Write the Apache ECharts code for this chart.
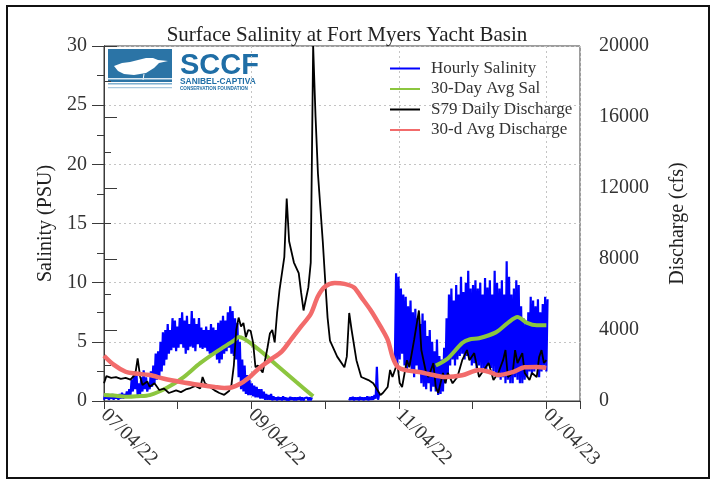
<!DOCTYPE html>
<html>
<head>
<meta charset="utf-8">
<script src="https://cdn.jsdelivr.net/npm/echarts@6/dist/echarts.min.js"></script>
<style>
  html, body { margin: 0; padding: 0; background: #fff; }
  #chart { width: 714px; height: 481px; }
</style>
</head>
<body>
<div id="chart"></div>
<script>
// days counted from 07/04/22
const xTickLabels = ['07/04/22', '09/04/22', '11/04/22', '01/04/23'];
const xTickStep = 184 / 6;   // one month, roughly
const xMaxDay = 198;

// hourly salinity, tidal low / high per day (null = no data)
const salLow = [
  0.1, 0.2, 0.1, 0.2, 0.1, 0.2, 0.1, 0.2, 0.2, 0.3,
  0.3, 0.5, 0.8, 1.0, 0.5, 0.6, 0.8, 1.0, 0.8, 1.0,
  1.2, 1.5, 1.8, 2.0, 2.5, 3.0, 3.5, 4.0, 4.3, 4.5,
  4.2, 4.5, 4.8, 4.5, 4.0, 4.3, 4.6, 4.5, 4.2, 4.8,
  4.5, 4.4, 4.5, 4.2, 4.0, 3.8, 4.0, 3.5, 3.2, 3.5,
  4.0, 4.2, 4.5, 4.0, 3.8, 3.5, 2.0, 1.0, 0.8, 0.6,
  0.5, 0.5, 0.4, 0.3, 0.3, 0.2, 0.2, 0.1, 0.1, 0.1,
  0.05, 0.1, 0.05, 0.1, 0.05, 0.1, 0.05, 0.05, 0.1, 0.05,
  0.05, 0.1, 0.05, 0.05, 0.1, 0.05, 0.05, null, null, null,
  null, null, null, null, null, null, null, null, null, null,
  null, null, 0.05, 0.1, 0.05, 0.1, 0.05, 0.1, 0.05, 0.1,
  0.05, 0.1, 0.1, 0.2, 0.1, null, null, null, null, null,
  null, 3.5, 3.0, 3.5, 4.0, 3.0, 2.5, 3.0, 2.5, 2.0,
  3.0, 2.5, 1.5, 1.2, 1.0, 1.5, 0.8, 1.2, 0.8, 0.5,
  0.6, 0.8, 1.5, 2.0, 3.0, 3.5, 3.0, 3.5, 3.8, 4.0,
  3.5, 3.8, 3.5, 3.0, 3.2, 2.8, 3.0, 2.5, 2.8, 2.5,
  3.0, 2.8, 2.5, 2.2, 2.0, 1.8, 2.0, 1.5, 1.8, 1.5,
  1.5, 2.0, 1.8, 1.5, 1.5, 1.8, 2.0, 2.5, 2.2, 2.5,
  2.8, 2.0, 2.5, 3.0, 2.5
];
const salHigh = [
  0.5, 0.6, 0.4, 0.6, 0.5, 0.5, 0.6, 0.7, 0.6, 0.8,
  1.0, 1.8, 2.5, 2.3, 1.5, 2.0, 2.6, 2.0, 1.5, 2.5,
  3.0, 4.0, 4.2, 5.0, 5.8, 6.0, 6.5, 6.0, 7.0, 6.8,
  6.3, 7.0, 7.5, 6.8, 7.2, 6.5, 7.6, 7.0, 6.5, 7.0,
  6.2, 6.0, 6.3, 6.0, 6.5, 6.2, 6.0, 6.6, 6.8, 7.2,
  6.8, 7.5, 8.0, 7.6, 7.0, 6.6, 5.0, 3.5, 3.0, 2.2,
  1.8, 1.5, 1.3, 1.2, 1.0, 1.0, 0.8, 0.6, 0.5, 0.6,
  0.4, 0.3, 0.35, 0.3, 0.4, 0.3, 0.25, 0.35, 0.3, 0.3,
  0.3, 0.35, 0.3, 0.25, 0.3, 0.3, 0.3, null, null, null,
  null, null, null, null, null, null, null, null, null, null,
  null, null, 0.3, 0.35, 0.3, 0.3, 0.35, 0.3, 0.3, 0.4,
  0.35, 0.4, 0.5, 2.9, 0.6, null, null, null, null, null,
  null, 10.8, 10.5, 9.5, 9.0, 8.8, 8.0, 8.5, 7.5, 7.8,
  7.0, 6.5, 7.4, 6.8, 5.5, 6.0, 5.0, 4.2, 5.2, 3.8,
  3.5, 4.5, 7.0, 9.0, 9.5, 8.5, 9.8, 9.0, 10.5, 9.2,
  10.0, 11.0, 9.5, 9.8, 10.2, 9.5, 10.0, 9.0, 10.4, 9.6,
  10.2, 9.0, 11.0, 10.0, 9.5, 10.2, 9.0, 11.8, 10.5, 9.0,
  9.5, 10.2, 9.8, 8.0, 7.0, 6.5, 7.5, 8.8, 8.5, 8.0,
  8.6, 7.5, 8.2, 8.8, 8.6
];

// 30-day average salinity [day, PSU]
const avgSal = [
  [0, 0.5], [5, 0.45], [10, 0.35], [14, 0.4], [19, 0.5], [26, 1.1], [33, 2.0],
  [40, 3.2], [47, 4.2], [54, 5.1], [56, 5.4], [64, 4.4], [72, 3.0], [80, 1.6],
  [87, 0.4], [100, null],
  [138, 3.0], [143, 3.6], [149, 4.9], [152, 5.2], [156, 5.3], [163, 5.8],
  [168, 6.6], [172, 7.1], [176, 6.6], [180, 6.4], [184, 6.4]
];

// S79 daily discharge [day, cfs]
const dailyDischarge = [
  [0, 1000], [1, 1400], [3, 1300], [5, 1350], [7, 1250], [9, 1300], [11, 1200],
  [13, 1500], [14, 2400], [15, 1400], [16, 900], [18, 1100], [19, 800], [21, 1000],
  [23, 620], [25, 700], [27, 450], [30, 600], [32, 500], [34, 650], [36, 730],
  [38, 850], [40, 700], [41, 1350], [42, 1000], [44, 800], [46, 600], [48, 450],
  [50, 350], [52, 560], [53, 900], [54, 2000], [55, 4000], [56, 4700], [57, 4200],
  [58, 4400], [59, 3600], [60, 4000], [61, 3950], [62, 3300], [63, 1900], [64, 2000],
  [66, 1600], [68, 3000], [69, 3800], [70, 4000], [71, 3300], [72, 4960], [73, 6250],
  [75, 8100], [76, 11400], [77, 9000], [79, 7800], [81, 7200], [82, 6100], [83, 5100],
  [85, 6400], [86, 7800], [87, 20000], [88, 16000], [89, 12800], [91, 9000], [92, 6800],
  [93, 4700], [94, 3400], [97, 2500], [100, 1900], [101, 2500], [102, 4960], [103, 4000],
  [105, 2300], [107, 1350], [110, 1180], [112, 1000], [115, 340], [116, 450], [118, 790],
  [119, 1750], [120, 1350], [122, 2140], [123, 1010], [124, 790], [126, 2300], [127, 1900],
  [129, 3440], [131, 5100], [132, 2870], [134, 1580], [135, 1350], [137, 2140], [138, 790],
  [139, 450], [141, 1580], [142, 1000], [143, 1580], [145, 1000], [147, 1350], [149, 2300],
  [151, 2870], [152, 2300], [154, 2700], [156, 1350], [158, 1750], [160, 2140], [162, 1180],
  [164, 1580], [166, 2300], [167, 2870], [168, 1350], [170, 1580], [171, 2870], [172, 2140],
  [174, 2700], [175, 1580], [177, 1180], [178, 1580], [180, 1350], [181, 2480], [182, 2870],
  [183, 2140], [184, 2300]
];

// 30-day average discharge [day, cfs]
const avgDischarge = [
  [0, 2550], [4, 2050], [9, 1650], [13, 1550], [19, 1460], [25, 1250], [32, 1070],
  [40, 900], [46, 790], [50, 730], [53, 760], [57, 1000], [61, 1400], [65, 1900],
  [69, 2300], [74, 2800], [78, 3500], [82, 4200], [86, 4900], [89, 5900], [92, 6450],
  [96, 6650], [100, 6600], [104, 6400], [107, 5850], [111, 5100], [115, 4200],
  [118, 3450], [120, 2500], [122, 1950], [125, 1750], [131, 1630], [137, 1460],
  [142, 1350], [149, 1450], [156, 1750], [160, 1650], [164, 1460], [170, 1630],
  [175, 1900], [180, 1920], [184, 1860]
];

// tidal readings -> zigzag low/high within each day
const hourlySal = [];
salLow.forEach((lo, d) => {
  if (lo == null) { hourlySal.push([d, null]); return; }
  hourlySal.push([d, lo], [d + 0.5, salHigh[d]]);
});

const serif = '"Liberation Serif", "DejaVu Serif", serif';
const axisColor = '#3a3a3a';

const chart = echarts.init(document.getElementById('chart'));

chart.setOption({
  animation: false,
  backgroundColor: '#fff',
  title: {
    text: 'Surface Salinity at Fort Myers Yacht Basin',
    left: 342,
    textAlign: 'center',
    top: 20,
    textStyle: { fontFamily: serif, fontSize: 21, fontWeight: 'normal', color: '#222' }
  },
  legend: {
    orient: 'vertical',
    left: 385,
    top: 55,
    itemWidth: 30,
    itemHeight: 2,
    itemGap: 3.5,
    icon: 'rect',
    textStyle: { fontFamily: serif, fontSize: 17, color: '#333', lineHeight: 17, padding: [0, 0, 0, 6] },
    data: ['Hourly Salinity', '30-Day Avg Sal', 'S79 Daily Discharge', '30-d Avg Discharge']
  },
  grid: {
    left: 104, right: 134, top: 46, bottom: 80,
    show: true, borderColor: axisColor, borderWidth: 1
  },
  xAxis: [
    {
      type: 'value', min: 0, max: xMaxDay, interval: xTickStep,
      axisLine: { lineStyle: { color: axisColor, width: 1 } },
      axisTick: { length: 8, lineStyle: { color: axisColor } },
      splitLine: { show: false },
      axisLabel: {
        rotate: -45, margin: 11,
        fontFamily: serif, fontSize: 20, color: '#333',
        formatter: v => {
          const i = Math.round(v / xTickStep);
          if (Math.abs(v - i * xTickStep) > 0.5 || i % 2) return '';
          return xTickLabels[i / 2] || '';
        }
      }
    },
    {
      type: 'value', min: 0, max: xMaxDay, interval: xTickStep * 2, position: 'bottom',
      axisLine: { show: false }, axisTick: { show: false }, axisLabel: { show: false },
      splitLine: { show: true, lineStyle: { color: '#c4c4c4', type: [2, 3], width: 1 } }
    }
  ],
  yAxis: [
    {
      type: 'value', min: 0, max: 30, interval: 5, position: 'left',
      name: 'Salinity (PSU)', nameLocation: 'middle', nameGap: 48,
      nameTextStyle: { fontFamily: serif, fontSize: 20, color: '#222' },
      axisLine: { show: true, lineStyle: { color: axisColor } },
      axisTick: { show: true, length: 12, lineStyle: { color: axisColor } },
      minorTick: { show: true, splitNumber: 2, length: 7, lineStyle: { color: axisColor } },
      splitLine: { show: true, lineStyle: { color: '#c4c4c4', type: [2, 3], width: 1 } },
      axisLabel: { fontFamily: serif, fontSize: 20, color: '#333', margin: 17 }
    },
    {
      type: 'value', min: 0, max: 20000, interval: 4000, position: 'right',
      name: 'Discharge (cfs)', nameLocation: 'middle', nameGap: 88,
      nameTextStyle: { fontFamily: serif, fontSize: 20, color: '#222' },
      axisLine: { show: true, lineStyle: { color: axisColor } },
      axisTick: { show: true, length: 13, lineStyle: { color: axisColor } },
      minorTick: { show: true, splitNumber: 2, length: 7, lineStyle: { color: axisColor } },
      splitLine: { show: false },
      axisLabel: { fontFamily: serif, fontSize: 20, color: '#333', margin: 19, formatter: v => String(v) }
    }
  ],
  series: [
    {
      name: 'Hourly Salinity', type: 'line', yAxisIndex: 0, data: hourlySal,
      symbol: 'none', color: '#0000ff', lineStyle: { width: 2.2, color: '#0000ff' }, z: 2
    },
    {
      name: '30-Day Avg Sal', type: 'line', yAxisIndex: 0, data: avgSal,
      symbol: 'none', smooth: 0.3, color: '#8cc63f', lineStyle: { width: 4, color: '#8cc63f' }, z: 3
    },
    {
      name: 'S79 Daily Discharge', type: 'line', yAxisIndex: 1, data: dailyDischarge,
      symbol: 'none', color: '#000', lineStyle: { width: 1.8, color: '#000' }, z: 4
    },
    {
      name: '30-d Avg Discharge', type: 'line', yAxisIndex: 1, data: avgDischarge,
      symbol: 'none', smooth: 0.3, color: '#f26b6b', lineStyle: { width: 4.5, color: '#f26b6b' }, z: 5
    }
  ],
  graphic: [
    // outer frame
    { type: 'rect', shape: { x: 7, y: 6, width: 702, height: 472 },
      style: { fill: 'none', stroke: '#111', lineWidth: 2 }, silent: true },
    // SCCF logo
    { type: 'group', x: 108, y: 49, silent: true, children: [
      { type: 'rect', shape: { x: 0, y: 0, width: 64, height: 33 }, style: { fill: '#2b74a6' } },
      { type: 'polygon', shape: { points: [[6, 17], [14, 14], [22, 13], [30, 11], [38, 9], [45, 9], [50, 11],
          [60, 12], [51, 14], [46, 19], [38, 24], [26, 26], [16, 25], [10, 22]] },
        style: { fill: '#fff' } },
      { type: 'line', shape: { x1: 36, y1: 25, x2: 35, y2: 31 }, style: { stroke: '#fff', lineWidth: 1 } },
      { type: 'rect', shape: { x: 0, y: 29, width: 64, height: 1.5 }, style: { fill: '#dbe9f3' } },
      { type: 'rect', shape: { x: 0, y: 34, width: 64, height: 1.5 }, style: { fill: '#7fb0d0' } },
      { type: 'rect', shape: { x: 0, y: 38, width: 64, height: 1.2 }, style: { fill: '#a9c9df' } },
      { type: 'text', x: 72, y: 2, style: { text: 'SCCF', fill: '#1f6ea6',
          font: 'bold 29px "Liberation Sans", Arial, sans-serif' } },
      { type: 'text', x: 72, y: 29, style: { text: 'SANIBEL-CAPTIVA', fill: '#1f6ea6',
          font: 'bold 8.4px "Liberation Sans", Arial, sans-serif' } },
      { type: 'text', x: 72, y: 37, style: { text: 'CONSERVATION FOUNDATION', fill: '#1f6ea6',
          font: 'bold 4.6px "Liberation Sans", Arial, sans-serif' } }
    ] }
  ]
});

window.addEventListener('resize', () => {
  chart.resize();
});
</script>
</body>
</html>
